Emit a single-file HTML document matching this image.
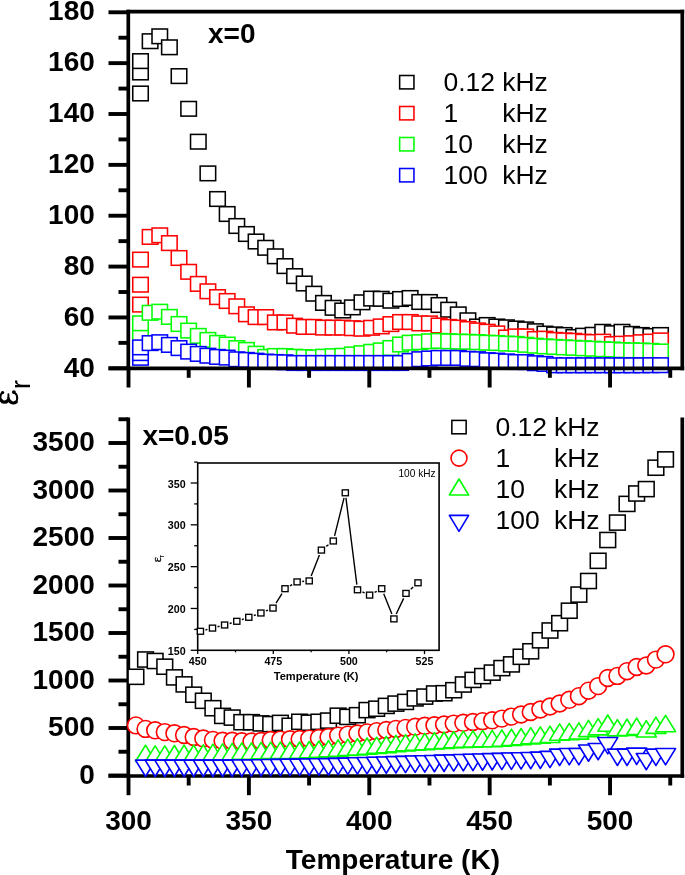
<!DOCTYPE html>
<html><head><meta charset="utf-8"><style>
html,body{margin:0;padding:0;background:#fff;}
body{width:685px;height:875px;overflow:hidden;}
svg{display:block;will-change:transform;}
</style></head><body>
<svg width="685" height="875" viewBox="0 0 685 875">
<rect width="685" height="875" fill="#fff"/>
<rect x="132.75" y="86.20" width="15.5" height="14.6" fill="#fff" stroke="#000" stroke-width="1.55"/>
<rect x="132.75" y="65.20" width="15.5" height="14.6" fill="#fff" stroke="#000" stroke-width="1.55"/>
<rect x="132.75" y="53.80" width="15.5" height="14.6" fill="#fff" stroke="#000" stroke-width="1.55"/>
<rect x="142.38" y="33.90" width="15.5" height="14.6" fill="#fff" stroke="#000" stroke-width="1.55"/>
<rect x="152.01" y="29.00" width="15.5" height="14.6" fill="#fff" stroke="#000" stroke-width="1.55"/>
<rect x="161.64" y="40.00" width="15.5" height="14.6" fill="#fff" stroke="#000" stroke-width="1.55"/>
<rect x="171.27" y="68.80" width="15.5" height="14.6" fill="#fff" stroke="#000" stroke-width="1.55"/>
<rect x="180.90" y="101.50" width="15.5" height="14.6" fill="#fff" stroke="#000" stroke-width="1.55"/>
<rect x="190.53" y="134.40" width="15.5" height="14.6" fill="#fff" stroke="#000" stroke-width="1.55"/>
<rect x="200.16" y="166.10" width="15.5" height="14.6" fill="#fff" stroke="#000" stroke-width="1.55"/>
<rect x="209.79" y="191.70" width="15.5" height="14.6" fill="#fff" stroke="#000" stroke-width="1.55"/>
<rect x="219.42" y="206.70" width="15.5" height="14.6" fill="#fff" stroke="#000" stroke-width="1.55"/>
<rect x="229.05" y="218.70" width="15.5" height="14.6" fill="#fff" stroke="#000" stroke-width="1.55"/>
<rect x="238.68" y="226.70" width="15.5" height="14.6" fill="#fff" stroke="#000" stroke-width="1.55"/>
<rect x="248.31" y="234.20" width="15.5" height="14.6" fill="#fff" stroke="#000" stroke-width="1.55"/>
<rect x="257.94" y="240.50" width="15.5" height="14.6" fill="#fff" stroke="#000" stroke-width="1.55"/>
<rect x="267.57" y="249.00" width="15.5" height="14.6" fill="#fff" stroke="#000" stroke-width="1.55"/>
<rect x="277.20" y="258.80" width="15.5" height="14.6" fill="#fff" stroke="#000" stroke-width="1.55"/>
<rect x="286.83" y="268.80" width="15.5" height="14.6" fill="#fff" stroke="#000" stroke-width="1.55"/>
<rect x="296.46" y="276.20" width="15.5" height="14.6" fill="#fff" stroke="#000" stroke-width="1.55"/>
<rect x="306.09" y="286.40" width="15.5" height="14.6" fill="#fff" stroke="#000" stroke-width="1.55"/>
<rect x="315.72" y="295.60" width="15.5" height="14.6" fill="#fff" stroke="#000" stroke-width="1.55"/>
<rect x="325.35" y="300.50" width="15.5" height="14.6" fill="#fff" stroke="#000" stroke-width="1.55"/>
<rect x="334.98" y="303.20" width="15.5" height="14.6" fill="#fff" stroke="#000" stroke-width="1.55"/>
<rect x="344.61" y="300.10" width="15.5" height="14.6" fill="#fff" stroke="#000" stroke-width="1.55"/>
<rect x="354.24" y="295.00" width="15.5" height="14.6" fill="#fff" stroke="#000" stroke-width="1.55"/>
<rect x="363.87" y="291.30" width="15.5" height="14.6" fill="#fff" stroke="#000" stroke-width="1.55"/>
<rect x="373.50" y="291.50" width="15.5" height="14.6" fill="#fff" stroke="#000" stroke-width="1.55"/>
<rect x="383.13" y="293.40" width="15.5" height="14.6" fill="#fff" stroke="#000" stroke-width="1.55"/>
<rect x="392.76" y="291.70" width="15.5" height="14.6" fill="#fff" stroke="#000" stroke-width="1.55"/>
<rect x="402.39" y="290.70" width="15.5" height="14.6" fill="#fff" stroke="#000" stroke-width="1.55"/>
<rect x="412.02" y="294.70" width="15.5" height="14.6" fill="#fff" stroke="#000" stroke-width="1.55"/>
<rect x="421.65" y="294.70" width="15.5" height="14.6" fill="#fff" stroke="#000" stroke-width="1.55"/>
<rect x="431.28" y="297.70" width="15.5" height="14.6" fill="#fff" stroke="#000" stroke-width="1.55"/>
<rect x="440.91" y="302.40" width="15.5" height="14.6" fill="#fff" stroke="#000" stroke-width="1.55"/>
<rect x="450.54" y="307.10" width="15.5" height="14.6" fill="#fff" stroke="#000" stroke-width="1.55"/>
<rect x="460.17" y="313.00" width="15.5" height="14.6" fill="#fff" stroke="#000" stroke-width="1.55"/>
<rect x="469.80" y="319.20" width="15.5" height="14.6" fill="#fff" stroke="#000" stroke-width="1.55"/>
<rect x="479.43" y="317.70" width="15.5" height="14.6" fill="#fff" stroke="#000" stroke-width="1.55"/>
<rect x="489.06" y="319.20" width="15.5" height="14.6" fill="#fff" stroke="#000" stroke-width="1.55"/>
<rect x="498.69" y="320.00" width="15.5" height="14.6" fill="#fff" stroke="#000" stroke-width="1.55"/>
<rect x="508.32" y="321.20" width="15.5" height="14.6" fill="#fff" stroke="#000" stroke-width="1.55"/>
<rect x="517.95" y="322.10" width="15.5" height="14.6" fill="#fff" stroke="#000" stroke-width="1.55"/>
<rect x="527.58" y="323.90" width="15.5" height="14.6" fill="#fff" stroke="#000" stroke-width="1.55"/>
<rect x="537.21" y="326.30" width="15.5" height="14.6" fill="#fff" stroke="#000" stroke-width="1.55"/>
<rect x="546.84" y="327.10" width="15.5" height="14.6" fill="#fff" stroke="#000" stroke-width="1.55"/>
<rect x="556.47" y="327.70" width="15.5" height="14.6" fill="#fff" stroke="#000" stroke-width="1.55"/>
<rect x="566.10" y="329.70" width="15.5" height="14.6" fill="#fff" stroke="#000" stroke-width="1.55"/>
<rect x="575.73" y="328.40" width="15.5" height="14.6" fill="#fff" stroke="#000" stroke-width="1.55"/>
<rect x="585.36" y="327.50" width="15.5" height="14.6" fill="#fff" stroke="#000" stroke-width="1.55"/>
<rect x="594.99" y="324.50" width="15.5" height="14.6" fill="#fff" stroke="#000" stroke-width="1.55"/>
<rect x="604.62" y="325.90" width="15.5" height="14.6" fill="#fff" stroke="#000" stroke-width="1.55"/>
<rect x="614.25" y="324.50" width="15.5" height="14.6" fill="#fff" stroke="#000" stroke-width="1.55"/>
<rect x="623.88" y="326.60" width="15.5" height="14.6" fill="#fff" stroke="#000" stroke-width="1.55"/>
<rect x="633.51" y="327.70" width="15.5" height="14.6" fill="#fff" stroke="#000" stroke-width="1.55"/>
<rect x="643.14" y="328.70" width="15.5" height="14.6" fill="#fff" stroke="#000" stroke-width="1.55"/>
<rect x="652.77" y="327.70" width="15.5" height="14.6" fill="#fff" stroke="#000" stroke-width="1.55"/>
<rect x="132.75" y="297.30" width="15.5" height="14.6" fill="#fff" stroke="#ff0000" stroke-width="1.55"/>
<rect x="132.75" y="277.40" width="15.5" height="14.6" fill="#fff" stroke="#ff0000" stroke-width="1.55"/>
<rect x="132.75" y="252.30" width="15.5" height="14.6" fill="#fff" stroke="#ff0000" stroke-width="1.55"/>
<rect x="142.38" y="229.60" width="15.5" height="14.6" fill="#fff" stroke="#ff0000" stroke-width="1.55"/>
<rect x="152.01" y="228.00" width="15.5" height="14.6" fill="#fff" stroke="#ff0000" stroke-width="1.55"/>
<rect x="161.64" y="235.80" width="15.5" height="14.6" fill="#fff" stroke="#ff0000" stroke-width="1.55"/>
<rect x="171.27" y="250.70" width="15.5" height="14.6" fill="#fff" stroke="#ff0000" stroke-width="1.55"/>
<rect x="180.90" y="264.50" width="15.5" height="14.6" fill="#fff" stroke="#ff0000" stroke-width="1.55"/>
<rect x="190.53" y="276.60" width="15.5" height="14.6" fill="#fff" stroke="#ff0000" stroke-width="1.55"/>
<rect x="200.16" y="284.00" width="15.5" height="14.6" fill="#fff" stroke="#ff0000" stroke-width="1.55"/>
<rect x="209.79" y="289.80" width="15.5" height="14.6" fill="#fff" stroke="#ff0000" stroke-width="1.55"/>
<rect x="219.42" y="293.70" width="15.5" height="14.6" fill="#fff" stroke="#ff0000" stroke-width="1.55"/>
<rect x="229.05" y="299.00" width="15.5" height="14.6" fill="#fff" stroke="#ff0000" stroke-width="1.55"/>
<rect x="238.68" y="307.00" width="15.5" height="14.6" fill="#fff" stroke="#ff0000" stroke-width="1.55"/>
<rect x="248.31" y="309.80" width="15.5" height="14.6" fill="#fff" stroke="#ff0000" stroke-width="1.55"/>
<rect x="257.94" y="309.80" width="15.5" height="14.6" fill="#fff" stroke="#ff0000" stroke-width="1.55"/>
<rect x="267.57" y="315.10" width="15.5" height="14.6" fill="#fff" stroke="#ff0000" stroke-width="1.55"/>
<rect x="277.20" y="315.10" width="15.5" height="14.6" fill="#fff" stroke="#ff0000" stroke-width="1.55"/>
<rect x="286.83" y="318.40" width="15.5" height="14.6" fill="#fff" stroke="#ff0000" stroke-width="1.55"/>
<rect x="296.46" y="319.60" width="15.5" height="14.6" fill="#fff" stroke="#ff0000" stroke-width="1.55"/>
<rect x="306.09" y="319.60" width="15.5" height="14.6" fill="#fff" stroke="#ff0000" stroke-width="1.55"/>
<rect x="315.72" y="320.30" width="15.5" height="14.6" fill="#fff" stroke="#ff0000" stroke-width="1.55"/>
<rect x="325.35" y="320.30" width="15.5" height="14.6" fill="#fff" stroke="#ff0000" stroke-width="1.55"/>
<rect x="334.98" y="320.30" width="15.5" height="14.6" fill="#fff" stroke="#ff0000" stroke-width="1.55"/>
<rect x="344.61" y="320.90" width="15.5" height="14.6" fill="#fff" stroke="#ff0000" stroke-width="1.55"/>
<rect x="354.24" y="321.40" width="15.5" height="14.6" fill="#fff" stroke="#ff0000" stroke-width="1.55"/>
<rect x="363.87" y="320.50" width="15.5" height="14.6" fill="#fff" stroke="#ff0000" stroke-width="1.55"/>
<rect x="373.50" y="319.10" width="15.5" height="14.6" fill="#fff" stroke="#ff0000" stroke-width="1.55"/>
<rect x="383.13" y="316.80" width="15.5" height="14.6" fill="#fff" stroke="#ff0000" stroke-width="1.55"/>
<rect x="392.76" y="314.70" width="15.5" height="14.6" fill="#fff" stroke="#ff0000" stroke-width="1.55"/>
<rect x="402.39" y="314.70" width="15.5" height="14.6" fill="#fff" stroke="#ff0000" stroke-width="1.55"/>
<rect x="412.02" y="316.10" width="15.5" height="14.6" fill="#fff" stroke="#ff0000" stroke-width="1.55"/>
<rect x="421.65" y="316.10" width="15.5" height="14.6" fill="#fff" stroke="#ff0000" stroke-width="1.55"/>
<rect x="431.28" y="318.20" width="15.5" height="14.6" fill="#fff" stroke="#ff0000" stroke-width="1.55"/>
<rect x="440.91" y="319.60" width="15.5" height="14.6" fill="#fff" stroke="#ff0000" stroke-width="1.55"/>
<rect x="450.54" y="320.30" width="15.5" height="14.6" fill="#fff" stroke="#ff0000" stroke-width="1.55"/>
<rect x="460.17" y="321.70" width="15.5" height="14.6" fill="#fff" stroke="#ff0000" stroke-width="1.55"/>
<rect x="469.80" y="323.10" width="15.5" height="14.6" fill="#fff" stroke="#ff0000" stroke-width="1.55"/>
<rect x="479.43" y="324.40" width="15.5" height="14.6" fill="#fff" stroke="#ff0000" stroke-width="1.55"/>
<rect x="489.06" y="326.10" width="15.5" height="14.6" fill="#fff" stroke="#ff0000" stroke-width="1.55"/>
<rect x="498.69" y="330.20" width="15.5" height="14.6" fill="#fff" stroke="#ff0000" stroke-width="1.55"/>
<rect x="508.32" y="329.10" width="15.5" height="14.6" fill="#fff" stroke="#ff0000" stroke-width="1.55"/>
<rect x="517.95" y="329.10" width="15.5" height="14.6" fill="#fff" stroke="#ff0000" stroke-width="1.55"/>
<rect x="527.58" y="331.70" width="15.5" height="14.6" fill="#fff" stroke="#ff0000" stroke-width="1.55"/>
<rect x="537.21" y="331.40" width="15.5" height="14.6" fill="#fff" stroke="#ff0000" stroke-width="1.55"/>
<rect x="546.84" y="332.60" width="15.5" height="14.6" fill="#fff" stroke="#ff0000" stroke-width="1.55"/>
<rect x="556.47" y="333.10" width="15.5" height="14.6" fill="#fff" stroke="#ff0000" stroke-width="1.55"/>
<rect x="566.10" y="333.50" width="15.5" height="14.6" fill="#fff" stroke="#ff0000" stroke-width="1.55"/>
<rect x="575.73" y="334.40" width="15.5" height="14.6" fill="#fff" stroke="#ff0000" stroke-width="1.55"/>
<rect x="585.36" y="334.70" width="15.5" height="14.6" fill="#fff" stroke="#ff0000" stroke-width="1.55"/>
<rect x="594.99" y="334.40" width="15.5" height="14.6" fill="#fff" stroke="#ff0000" stroke-width="1.55"/>
<rect x="604.62" y="336.80" width="15.5" height="14.6" fill="#fff" stroke="#ff0000" stroke-width="1.55"/>
<rect x="614.25" y="336.40" width="15.5" height="14.6" fill="#fff" stroke="#ff0000" stroke-width="1.55"/>
<rect x="623.88" y="335.90" width="15.5" height="14.6" fill="#fff" stroke="#ff0000" stroke-width="1.55"/>
<rect x="633.51" y="334.90" width="15.5" height="14.6" fill="#fff" stroke="#ff0000" stroke-width="1.55"/>
<rect x="643.14" y="334.30" width="15.5" height="14.6" fill="#fff" stroke="#ff0000" stroke-width="1.55"/>
<rect x="652.77" y="333.10" width="15.5" height="14.6" fill="#fff" stroke="#ff0000" stroke-width="1.55"/>
<rect x="132.75" y="326.70" width="15.5" height="14.6" fill="#fff" stroke="#00ff00" stroke-width="1.55"/>
<rect x="132.75" y="316.00" width="15.5" height="14.6" fill="#fff" stroke="#00ff00" stroke-width="1.55"/>
<rect x="142.38" y="305.50" width="15.5" height="14.6" fill="#fff" stroke="#00ff00" stroke-width="1.55"/>
<rect x="152.01" y="304.40" width="15.5" height="14.6" fill="#fff" stroke="#00ff00" stroke-width="1.55"/>
<rect x="161.64" y="309.60" width="15.5" height="14.6" fill="#fff" stroke="#00ff00" stroke-width="1.55"/>
<rect x="171.27" y="316.70" width="15.5" height="14.6" fill="#fff" stroke="#00ff00" stroke-width="1.55"/>
<rect x="180.90" y="323.30" width="15.5" height="14.6" fill="#fff" stroke="#00ff00" stroke-width="1.55"/>
<rect x="190.53" y="328.60" width="15.5" height="14.6" fill="#fff" stroke="#00ff00" stroke-width="1.55"/>
<rect x="200.16" y="332.60" width="15.5" height="14.6" fill="#fff" stroke="#00ff00" stroke-width="1.55"/>
<rect x="209.79" y="335.60" width="15.5" height="14.6" fill="#fff" stroke="#00ff00" stroke-width="1.55"/>
<rect x="219.42" y="337.30" width="15.5" height="14.6" fill="#fff" stroke="#00ff00" stroke-width="1.55"/>
<rect x="229.05" y="340.80" width="15.5" height="14.6" fill="#fff" stroke="#00ff00" stroke-width="1.55"/>
<rect x="238.68" y="342.60" width="15.5" height="14.6" fill="#fff" stroke="#00ff00" stroke-width="1.55"/>
<rect x="248.31" y="346.40" width="15.5" height="14.6" fill="#fff" stroke="#00ff00" stroke-width="1.55"/>
<rect x="257.94" y="349.60" width="15.5" height="14.6" fill="#fff" stroke="#00ff00" stroke-width="1.55"/>
<rect x="267.57" y="348.70" width="15.5" height="14.6" fill="#fff" stroke="#00ff00" stroke-width="1.55"/>
<rect x="277.20" y="348.70" width="15.5" height="14.6" fill="#fff" stroke="#00ff00" stroke-width="1.55"/>
<rect x="286.83" y="349.40" width="15.5" height="14.6" fill="#fff" stroke="#00ff00" stroke-width="1.55"/>
<rect x="296.46" y="349.80" width="15.5" height="14.6" fill="#fff" stroke="#00ff00" stroke-width="1.55"/>
<rect x="306.09" y="350.10" width="15.5" height="14.6" fill="#fff" stroke="#00ff00" stroke-width="1.55"/>
<rect x="315.72" y="349.40" width="15.5" height="14.6" fill="#fff" stroke="#00ff00" stroke-width="1.55"/>
<rect x="325.35" y="348.90" width="15.5" height="14.6" fill="#fff" stroke="#00ff00" stroke-width="1.55"/>
<rect x="334.98" y="348.50" width="15.5" height="14.6" fill="#fff" stroke="#00ff00" stroke-width="1.55"/>
<rect x="344.61" y="347.10" width="15.5" height="14.6" fill="#fff" stroke="#00ff00" stroke-width="1.55"/>
<rect x="354.24" y="345.90" width="15.5" height="14.6" fill="#fff" stroke="#00ff00" stroke-width="1.55"/>
<rect x="363.87" y="344.50" width="15.5" height="14.6" fill="#fff" stroke="#00ff00" stroke-width="1.55"/>
<rect x="373.50" y="343.10" width="15.5" height="14.6" fill="#fff" stroke="#00ff00" stroke-width="1.55"/>
<rect x="383.13" y="340.70" width="15.5" height="14.6" fill="#fff" stroke="#00ff00" stroke-width="1.55"/>
<rect x="392.76" y="337.20" width="15.5" height="14.6" fill="#fff" stroke="#00ff00" stroke-width="1.55"/>
<rect x="402.39" y="335.40" width="15.5" height="14.6" fill="#fff" stroke="#00ff00" stroke-width="1.55"/>
<rect x="412.02" y="334.90" width="15.5" height="14.6" fill="#fff" stroke="#00ff00" stroke-width="1.55"/>
<rect x="421.65" y="334.00" width="15.5" height="14.6" fill="#fff" stroke="#00ff00" stroke-width="1.55"/>
<rect x="431.28" y="333.60" width="15.5" height="14.6" fill="#fff" stroke="#00ff00" stroke-width="1.55"/>
<rect x="440.91" y="334.00" width="15.5" height="14.6" fill="#fff" stroke="#00ff00" stroke-width="1.55"/>
<rect x="450.54" y="334.30" width="15.5" height="14.6" fill="#fff" stroke="#00ff00" stroke-width="1.55"/>
<rect x="460.17" y="334.50" width="15.5" height="14.6" fill="#fff" stroke="#00ff00" stroke-width="1.55"/>
<rect x="469.80" y="334.90" width="15.5" height="14.6" fill="#fff" stroke="#00ff00" stroke-width="1.55"/>
<rect x="479.43" y="335.40" width="15.5" height="14.6" fill="#fff" stroke="#00ff00" stroke-width="1.55"/>
<rect x="489.06" y="335.70" width="15.5" height="14.6" fill="#fff" stroke="#00ff00" stroke-width="1.55"/>
<rect x="498.69" y="336.30" width="15.5" height="14.6" fill="#fff" stroke="#00ff00" stroke-width="1.55"/>
<rect x="508.32" y="336.60" width="15.5" height="14.6" fill="#fff" stroke="#00ff00" stroke-width="1.55"/>
<rect x="517.95" y="337.50" width="15.5" height="14.6" fill="#fff" stroke="#00ff00" stroke-width="1.55"/>
<rect x="527.58" y="338.40" width="15.5" height="14.6" fill="#fff" stroke="#00ff00" stroke-width="1.55"/>
<rect x="537.21" y="339.10" width="15.5" height="14.6" fill="#fff" stroke="#00ff00" stroke-width="1.55"/>
<rect x="546.84" y="339.60" width="15.5" height="14.6" fill="#fff" stroke="#00ff00" stroke-width="1.55"/>
<rect x="556.47" y="340.10" width="15.5" height="14.6" fill="#fff" stroke="#00ff00" stroke-width="1.55"/>
<rect x="566.10" y="340.50" width="15.5" height="14.6" fill="#fff" stroke="#00ff00" stroke-width="1.55"/>
<rect x="575.73" y="341.00" width="15.5" height="14.6" fill="#fff" stroke="#00ff00" stroke-width="1.55"/>
<rect x="585.36" y="341.40" width="15.5" height="14.6" fill="#fff" stroke="#00ff00" stroke-width="1.55"/>
<rect x="594.99" y="341.90" width="15.5" height="14.6" fill="#fff" stroke="#00ff00" stroke-width="1.55"/>
<rect x="604.62" y="342.20" width="15.5" height="14.6" fill="#fff" stroke="#00ff00" stroke-width="1.55"/>
<rect x="614.25" y="342.80" width="15.5" height="14.6" fill="#fff" stroke="#00ff00" stroke-width="1.55"/>
<rect x="623.88" y="343.10" width="15.5" height="14.6" fill="#fff" stroke="#00ff00" stroke-width="1.55"/>
<rect x="633.51" y="343.20" width="15.5" height="14.6" fill="#fff" stroke="#00ff00" stroke-width="1.55"/>
<rect x="643.14" y="343.60" width="15.5" height="14.6" fill="#fff" stroke="#00ff00" stroke-width="1.55"/>
<rect x="652.77" y="344.20" width="15.5" height="14.6" fill="#fff" stroke="#00ff00" stroke-width="1.55"/>
<rect x="132.75" y="350.50" width="15.5" height="14.6" fill="#fff" stroke="#0000ff" stroke-width="1.55"/>
<rect x="132.75" y="345.80" width="15.5" height="14.6" fill="#fff" stroke="#0000ff" stroke-width="1.55"/>
<rect x="132.75" y="340.10" width="15.5" height="14.6" fill="#fff" stroke="#0000ff" stroke-width="1.55"/>
<rect x="142.38" y="335.80" width="15.5" height="14.6" fill="#fff" stroke="#0000ff" stroke-width="1.55"/>
<rect x="152.01" y="334.90" width="15.5" height="14.6" fill="#fff" stroke="#0000ff" stroke-width="1.55"/>
<rect x="161.64" y="337.60" width="15.5" height="14.6" fill="#fff" stroke="#0000ff" stroke-width="1.55"/>
<rect x="171.27" y="340.80" width="15.5" height="14.6" fill="#fff" stroke="#0000ff" stroke-width="1.55"/>
<rect x="180.90" y="344.30" width="15.5" height="14.6" fill="#fff" stroke="#0000ff" stroke-width="1.55"/>
<rect x="190.53" y="346.60" width="15.5" height="14.6" fill="#fff" stroke="#0000ff" stroke-width="1.55"/>
<rect x="200.16" y="348.40" width="15.5" height="14.6" fill="#fff" stroke="#0000ff" stroke-width="1.55"/>
<rect x="209.79" y="349.60" width="15.5" height="14.6" fill="#fff" stroke="#0000ff" stroke-width="1.55"/>
<rect x="219.42" y="350.30" width="15.5" height="14.6" fill="#fff" stroke="#0000ff" stroke-width="1.55"/>
<rect x="229.05" y="352.00" width="15.5" height="14.6" fill="#fff" stroke="#0000ff" stroke-width="1.55"/>
<rect x="238.68" y="352.60" width="15.5" height="14.6" fill="#fff" stroke="#0000ff" stroke-width="1.55"/>
<rect x="248.31" y="353.40" width="15.5" height="14.6" fill="#fff" stroke="#0000ff" stroke-width="1.55"/>
<rect x="257.94" y="354.30" width="15.5" height="14.6" fill="#fff" stroke="#0000ff" stroke-width="1.55"/>
<rect x="267.57" y="354.70" width="15.5" height="14.6" fill="#fff" stroke="#0000ff" stroke-width="1.55"/>
<rect x="277.20" y="355.00" width="15.5" height="14.6" fill="#fff" stroke="#0000ff" stroke-width="1.55"/>
<rect x="286.83" y="355.70" width="15.5" height="14.6" fill="#fff" stroke="#0000ff" stroke-width="1.55"/>
<rect x="296.46" y="355.70" width="15.5" height="14.6" fill="#fff" stroke="#0000ff" stroke-width="1.55"/>
<rect x="306.09" y="355.70" width="15.5" height="14.6" fill="#fff" stroke="#0000ff" stroke-width="1.55"/>
<rect x="315.72" y="355.70" width="15.5" height="14.6" fill="#fff" stroke="#0000ff" stroke-width="1.55"/>
<rect x="325.35" y="355.70" width="15.5" height="14.6" fill="#fff" stroke="#0000ff" stroke-width="1.55"/>
<rect x="334.98" y="355.70" width="15.5" height="14.6" fill="#fff" stroke="#0000ff" stroke-width="1.55"/>
<rect x="344.61" y="355.70" width="15.5" height="14.6" fill="#fff" stroke="#0000ff" stroke-width="1.55"/>
<rect x="354.24" y="355.70" width="15.5" height="14.6" fill="#fff" stroke="#0000ff" stroke-width="1.55"/>
<rect x="363.87" y="355.70" width="15.5" height="14.6" fill="#fff" stroke="#0000ff" stroke-width="1.55"/>
<rect x="373.50" y="355.70" width="15.5" height="14.6" fill="#fff" stroke="#0000ff" stroke-width="1.55"/>
<rect x="383.13" y="355.70" width="15.5" height="14.6" fill="#fff" stroke="#0000ff" stroke-width="1.55"/>
<rect x="392.76" y="355.70" width="15.5" height="14.6" fill="#fff" stroke="#0000ff" stroke-width="1.55"/>
<rect x="402.39" y="353.60" width="15.5" height="14.6" fill="#fff" stroke="#0000ff" stroke-width="1.55"/>
<rect x="412.02" y="351.90" width="15.5" height="14.6" fill="#fff" stroke="#0000ff" stroke-width="1.55"/>
<rect x="421.65" y="351.20" width="15.5" height="14.6" fill="#fff" stroke="#0000ff" stroke-width="1.55"/>
<rect x="431.28" y="350.60" width="15.5" height="14.6" fill="#fff" stroke="#0000ff" stroke-width="1.55"/>
<rect x="440.91" y="350.60" width="15.5" height="14.6" fill="#fff" stroke="#0000ff" stroke-width="1.55"/>
<rect x="450.54" y="350.60" width="15.5" height="14.6" fill="#fff" stroke="#0000ff" stroke-width="1.55"/>
<rect x="460.17" y="351.50" width="15.5" height="14.6" fill="#fff" stroke="#0000ff" stroke-width="1.55"/>
<rect x="469.80" y="351.90" width="15.5" height="14.6" fill="#fff" stroke="#0000ff" stroke-width="1.55"/>
<rect x="479.43" y="352.90" width="15.5" height="14.6" fill="#fff" stroke="#0000ff" stroke-width="1.55"/>
<rect x="489.06" y="353.30" width="15.5" height="14.6" fill="#fff" stroke="#0000ff" stroke-width="1.55"/>
<rect x="498.69" y="354.10" width="15.5" height="14.6" fill="#fff" stroke="#0000ff" stroke-width="1.55"/>
<rect x="508.32" y="354.70" width="15.5" height="14.6" fill="#fff" stroke="#0000ff" stroke-width="1.55"/>
<rect x="517.95" y="354.80" width="15.5" height="14.6" fill="#fff" stroke="#0000ff" stroke-width="1.55"/>
<rect x="527.58" y="355.90" width="15.5" height="14.6" fill="#fff" stroke="#0000ff" stroke-width="1.55"/>
<rect x="537.21" y="356.60" width="15.5" height="14.6" fill="#fff" stroke="#0000ff" stroke-width="1.55"/>
<rect x="546.84" y="358.00" width="15.5" height="14.6" fill="#fff" stroke="#0000ff" stroke-width="1.55"/>
<rect x="556.47" y="358.00" width="15.5" height="14.6" fill="#fff" stroke="#0000ff" stroke-width="1.55"/>
<rect x="566.10" y="358.00" width="15.5" height="14.6" fill="#fff" stroke="#0000ff" stroke-width="1.55"/>
<rect x="575.73" y="358.00" width="15.5" height="14.6" fill="#fff" stroke="#0000ff" stroke-width="1.55"/>
<rect x="585.36" y="358.00" width="15.5" height="14.6" fill="#fff" stroke="#0000ff" stroke-width="1.55"/>
<rect x="594.99" y="358.00" width="15.5" height="14.6" fill="#fff" stroke="#0000ff" stroke-width="1.55"/>
<rect x="604.62" y="358.00" width="15.5" height="14.6" fill="#fff" stroke="#0000ff" stroke-width="1.55"/>
<rect x="614.25" y="358.00" width="15.5" height="14.6" fill="#fff" stroke="#0000ff" stroke-width="1.55"/>
<rect x="623.88" y="358.00" width="15.5" height="14.6" fill="#fff" stroke="#0000ff" stroke-width="1.55"/>
<rect x="633.51" y="358.00" width="15.5" height="14.6" fill="#fff" stroke="#0000ff" stroke-width="1.55"/>
<rect x="643.14" y="357.90" width="15.5" height="14.6" fill="#fff" stroke="#0000ff" stroke-width="1.55"/>
<rect x="652.77" y="357.90" width="15.5" height="14.6" fill="#fff" stroke="#0000ff" stroke-width="1.55"/>
<line x1="126.45" y1="11.70" x2="684.15" y2="11.70" stroke="#000" stroke-width="3.7"/>
<line x1="682.30" y1="9.85" x2="682.30" y2="370.15" stroke="#000" stroke-width="3.7"/>
<line x1="108.50" y1="368.30" x2="684.15" y2="368.30" stroke="#000" stroke-width="3.7"/>
<line x1="128.30" y1="9.85" x2="128.30" y2="368.30" stroke="#000" stroke-width="3.7"/>
<line x1="108.50" y1="368.30" x2="128.30" y2="368.30" stroke="#000" stroke-width="3.9"/>
<text x="94.80" y="376.50" font-family="&quot;Liberation Sans&quot;, sans-serif" font-weight="bold" font-size="28" text-anchor="end" >40</text>
<line x1="118.50" y1="342.87" x2="128.30" y2="342.87" stroke="#000" stroke-width="3.9"/>
<line x1="108.50" y1="317.44" x2="128.30" y2="317.44" stroke="#000" stroke-width="3.9"/>
<text x="94.80" y="325.64" font-family="&quot;Liberation Sans&quot;, sans-serif" font-weight="bold" font-size="28" text-anchor="end" >60</text>
<line x1="118.50" y1="292.01" x2="128.30" y2="292.01" stroke="#000" stroke-width="3.9"/>
<line x1="108.50" y1="266.58" x2="128.30" y2="266.58" stroke="#000" stroke-width="3.9"/>
<text x="94.80" y="274.78" font-family="&quot;Liberation Sans&quot;, sans-serif" font-weight="bold" font-size="28" text-anchor="end" >80</text>
<line x1="118.50" y1="241.15" x2="128.30" y2="241.15" stroke="#000" stroke-width="3.9"/>
<line x1="108.50" y1="215.72" x2="128.30" y2="215.72" stroke="#000" stroke-width="3.9"/>
<text x="94.80" y="223.92" font-family="&quot;Liberation Sans&quot;, sans-serif" font-weight="bold" font-size="28" text-anchor="end" >100</text>
<line x1="118.50" y1="190.29" x2="128.30" y2="190.29" stroke="#000" stroke-width="3.9"/>
<line x1="108.50" y1="164.86" x2="128.30" y2="164.86" stroke="#000" stroke-width="3.9"/>
<text x="94.80" y="173.06" font-family="&quot;Liberation Sans&quot;, sans-serif" font-weight="bold" font-size="28" text-anchor="end" >120</text>
<line x1="118.50" y1="139.43" x2="128.30" y2="139.43" stroke="#000" stroke-width="3.9"/>
<line x1="108.50" y1="114.00" x2="128.30" y2="114.00" stroke="#000" stroke-width="3.9"/>
<text x="94.80" y="122.20" font-family="&quot;Liberation Sans&quot;, sans-serif" font-weight="bold" font-size="28" text-anchor="end" >140</text>
<line x1="118.50" y1="88.57" x2="128.30" y2="88.57" stroke="#000" stroke-width="3.9"/>
<line x1="108.50" y1="63.14" x2="128.30" y2="63.14" stroke="#000" stroke-width="3.9"/>
<text x="94.80" y="71.34" font-family="&quot;Liberation Sans&quot;, sans-serif" font-weight="bold" font-size="28" text-anchor="end" >160</text>
<line x1="118.50" y1="37.71" x2="128.30" y2="37.71" stroke="#000" stroke-width="3.9"/>
<line x1="108.50" y1="12.28" x2="128.30" y2="12.28" stroke="#000" stroke-width="3.9"/>
<text x="94.80" y="20.48" font-family="&quot;Liberation Sans&quot;, sans-serif" font-weight="bold" font-size="28" text-anchor="end" >180</text>
<line x1="128.50" y1="368.30" x2="128.50" y2="387.50" stroke="#000" stroke-width="3.9"/>
<line x1="188.69" y1="368.30" x2="188.69" y2="377.80" stroke="#000" stroke-width="3.9"/>
<line x1="248.89" y1="368.30" x2="248.89" y2="387.50" stroke="#000" stroke-width="3.9"/>
<line x1="309.09" y1="368.30" x2="309.09" y2="377.80" stroke="#000" stroke-width="3.9"/>
<line x1="369.28" y1="368.30" x2="369.28" y2="387.50" stroke="#000" stroke-width="3.9"/>
<line x1="429.47" y1="368.30" x2="429.47" y2="377.80" stroke="#000" stroke-width="3.9"/>
<line x1="489.67" y1="368.30" x2="489.67" y2="387.50" stroke="#000" stroke-width="3.9"/>
<line x1="549.87" y1="368.30" x2="549.87" y2="377.80" stroke="#000" stroke-width="3.9"/>
<line x1="610.06" y1="368.30" x2="610.06" y2="387.50" stroke="#000" stroke-width="3.9"/>
<line x1="670.25" y1="368.30" x2="670.25" y2="377.80" stroke="#000" stroke-width="3.9"/>
<line x1="128.30" y1="417.60" x2="128.30" y2="776.00" stroke="#000" stroke-width="3.7"/>
<line x1="682.30" y1="417.60" x2="682.30" y2="777.85" stroke="#000" stroke-width="3.7"/>
<line x1="108.50" y1="776.00" x2="684.15" y2="776.00" stroke="#000" stroke-width="3.7"/>
<line x1="108.50" y1="775.50" x2="128.30" y2="775.50" stroke="#000" stroke-width="3.9"/>
<text x="94.80" y="783.70" font-family="&quot;Liberation Sans&quot;, sans-serif" font-weight="bold" font-size="28" text-anchor="end" >0</text>
<line x1="118.50" y1="751.75" x2="128.30" y2="751.75" stroke="#000" stroke-width="3.9"/>
<line x1="108.50" y1="728.00" x2="128.30" y2="728.00" stroke="#000" stroke-width="3.9"/>
<text x="94.80" y="736.20" font-family="&quot;Liberation Sans&quot;, sans-serif" font-weight="bold" font-size="28" text-anchor="end" >500</text>
<line x1="118.50" y1="704.25" x2="128.30" y2="704.25" stroke="#000" stroke-width="3.9"/>
<line x1="108.50" y1="680.50" x2="128.30" y2="680.50" stroke="#000" stroke-width="3.9"/>
<text x="94.80" y="688.70" font-family="&quot;Liberation Sans&quot;, sans-serif" font-weight="bold" font-size="28" text-anchor="end" >1000</text>
<line x1="118.50" y1="656.75" x2="128.30" y2="656.75" stroke="#000" stroke-width="3.9"/>
<line x1="108.50" y1="633.00" x2="128.30" y2="633.00" stroke="#000" stroke-width="3.9"/>
<text x="94.80" y="641.20" font-family="&quot;Liberation Sans&quot;, sans-serif" font-weight="bold" font-size="28" text-anchor="end" >1500</text>
<line x1="118.50" y1="609.25" x2="128.30" y2="609.25" stroke="#000" stroke-width="3.9"/>
<line x1="108.50" y1="585.50" x2="128.30" y2="585.50" stroke="#000" stroke-width="3.9"/>
<text x="94.80" y="593.70" font-family="&quot;Liberation Sans&quot;, sans-serif" font-weight="bold" font-size="28" text-anchor="end" >2000</text>
<line x1="118.50" y1="561.75" x2="128.30" y2="561.75" stroke="#000" stroke-width="3.9"/>
<line x1="108.50" y1="538.00" x2="128.30" y2="538.00" stroke="#000" stroke-width="3.9"/>
<text x="94.80" y="546.20" font-family="&quot;Liberation Sans&quot;, sans-serif" font-weight="bold" font-size="28" text-anchor="end" >2500</text>
<line x1="118.50" y1="514.25" x2="128.30" y2="514.25" stroke="#000" stroke-width="3.9"/>
<line x1="108.50" y1="490.50" x2="128.30" y2="490.50" stroke="#000" stroke-width="3.9"/>
<text x="94.80" y="498.70" font-family="&quot;Liberation Sans&quot;, sans-serif" font-weight="bold" font-size="28" text-anchor="end" >3000</text>
<line x1="118.50" y1="466.75" x2="128.30" y2="466.75" stroke="#000" stroke-width="3.9"/>
<line x1="108.50" y1="443.00" x2="128.30" y2="443.00" stroke="#000" stroke-width="3.9"/>
<text x="94.80" y="451.20" font-family="&quot;Liberation Sans&quot;, sans-serif" font-weight="bold" font-size="28" text-anchor="end" >3500</text>
<line x1="118.50" y1="419.25" x2="128.30" y2="419.25" stroke="#000" stroke-width="3.9"/>
<line x1="128.50" y1="776.00" x2="128.50" y2="795.20" stroke="#000" stroke-width="3.9"/>
<text x="128.50" y="830.00" font-family="&quot;Liberation Sans&quot;, sans-serif" font-weight="bold" font-size="28" text-anchor="middle" >300</text>
<line x1="188.69" y1="776.00" x2="188.69" y2="785.50" stroke="#000" stroke-width="3.9"/>
<line x1="248.89" y1="776.00" x2="248.89" y2="795.20" stroke="#000" stroke-width="3.9"/>
<text x="248.89" y="830.00" font-family="&quot;Liberation Sans&quot;, sans-serif" font-weight="bold" font-size="28" text-anchor="middle" >350</text>
<line x1="309.09" y1="776.00" x2="309.09" y2="785.50" stroke="#000" stroke-width="3.9"/>
<line x1="369.28" y1="776.00" x2="369.28" y2="795.20" stroke="#000" stroke-width="3.9"/>
<text x="369.28" y="830.00" font-family="&quot;Liberation Sans&quot;, sans-serif" font-weight="bold" font-size="28" text-anchor="middle" >400</text>
<line x1="429.47" y1="776.00" x2="429.47" y2="785.50" stroke="#000" stroke-width="3.9"/>
<line x1="489.67" y1="776.00" x2="489.67" y2="795.20" stroke="#000" stroke-width="3.9"/>
<text x="489.67" y="830.00" font-family="&quot;Liberation Sans&quot;, sans-serif" font-weight="bold" font-size="28" text-anchor="middle" >450</text>
<line x1="549.87" y1="776.00" x2="549.87" y2="785.50" stroke="#000" stroke-width="3.9"/>
<line x1="610.06" y1="776.00" x2="610.06" y2="795.20" stroke="#000" stroke-width="3.9"/>
<text x="610.06" y="830.00" font-family="&quot;Liberation Sans&quot;, sans-serif" font-weight="bold" font-size="28" text-anchor="middle" >500</text>
<line x1="670.25" y1="776.00" x2="670.25" y2="785.50" stroke="#000" stroke-width="3.9"/>
<rect x="128.05" y="669.25" width="15.7" height="15.1" fill="#fff" stroke="#000" stroke-width="1.55"/>
<rect x="137.68" y="651.95" width="15.7" height="15.1" fill="#fff" stroke="#000" stroke-width="1.55"/>
<rect x="147.31" y="653.45" width="15.7" height="15.1" fill="#fff" stroke="#000" stroke-width="1.55"/>
<rect x="156.94" y="659.15" width="15.7" height="15.1" fill="#fff" stroke="#000" stroke-width="1.55"/>
<rect x="166.57" y="669.85" width="15.7" height="15.1" fill="#fff" stroke="#000" stroke-width="1.55"/>
<rect x="176.20" y="676.85" width="15.7" height="15.1" fill="#fff" stroke="#000" stroke-width="1.55"/>
<rect x="185.83" y="687.15" width="15.7" height="15.1" fill="#fff" stroke="#000" stroke-width="1.55"/>
<rect x="195.46" y="693.25" width="15.7" height="15.1" fill="#fff" stroke="#000" stroke-width="1.55"/>
<rect x="205.09" y="700.65" width="15.7" height="15.1" fill="#fff" stroke="#000" stroke-width="1.55"/>
<rect x="214.72" y="708.35" width="15.7" height="15.1" fill="#fff" stroke="#000" stroke-width="1.55"/>
<rect x="224.35" y="710.05" width="15.7" height="15.1" fill="#fff" stroke="#000" stroke-width="1.55"/>
<rect x="233.98" y="714.65" width="15.7" height="15.1" fill="#fff" stroke="#000" stroke-width="1.55"/>
<rect x="243.61" y="714.65" width="15.7" height="15.1" fill="#fff" stroke="#000" stroke-width="1.55"/>
<rect x="253.24" y="715.85" width="15.7" height="15.1" fill="#fff" stroke="#000" stroke-width="1.55"/>
<rect x="262.87" y="716.55" width="15.7" height="15.1" fill="#fff" stroke="#000" stroke-width="1.55"/>
<rect x="272.50" y="715.35" width="15.7" height="15.1" fill="#fff" stroke="#000" stroke-width="1.55"/>
<rect x="282.13" y="718.25" width="15.7" height="15.1" fill="#fff" stroke="#000" stroke-width="1.55"/>
<rect x="291.76" y="714.25" width="15.7" height="15.1" fill="#fff" stroke="#000" stroke-width="1.55"/>
<rect x="301.39" y="715.15" width="15.7" height="15.1" fill="#fff" stroke="#000" stroke-width="1.55"/>
<rect x="311.02" y="714.25" width="15.7" height="15.1" fill="#fff" stroke="#000" stroke-width="1.55"/>
<rect x="320.65" y="713.05" width="15.7" height="15.1" fill="#fff" stroke="#000" stroke-width="1.55"/>
<rect x="330.28" y="708.15" width="15.7" height="15.1" fill="#fff" stroke="#000" stroke-width="1.55"/>
<rect x="339.91" y="709.35" width="15.7" height="15.1" fill="#fff" stroke="#000" stroke-width="1.55"/>
<rect x="349.54" y="707.65" width="15.7" height="15.1" fill="#fff" stroke="#000" stroke-width="1.55"/>
<rect x="359.17" y="702.55" width="15.7" height="15.1" fill="#fff" stroke="#000" stroke-width="1.55"/>
<rect x="368.80" y="701.15" width="15.7" height="15.1" fill="#fff" stroke="#000" stroke-width="1.55"/>
<rect x="378.43" y="698.35" width="15.7" height="15.1" fill="#fff" stroke="#000" stroke-width="1.55"/>
<rect x="388.06" y="696.05" width="15.7" height="15.1" fill="#fff" stroke="#000" stroke-width="1.55"/>
<rect x="397.69" y="694.35" width="15.7" height="15.1" fill="#fff" stroke="#000" stroke-width="1.55"/>
<rect x="407.32" y="690.85" width="15.7" height="15.1" fill="#fff" stroke="#000" stroke-width="1.55"/>
<rect x="416.95" y="689.05" width="15.7" height="15.1" fill="#fff" stroke="#000" stroke-width="1.55"/>
<rect x="426.58" y="685.95" width="15.7" height="15.1" fill="#fff" stroke="#000" stroke-width="1.55"/>
<rect x="436.21" y="685.65" width="15.7" height="15.1" fill="#fff" stroke="#000" stroke-width="1.55"/>
<rect x="445.84" y="682.65" width="15.7" height="15.1" fill="#fff" stroke="#000" stroke-width="1.55"/>
<rect x="455.47" y="676.95" width="15.7" height="15.1" fill="#fff" stroke="#000" stroke-width="1.55"/>
<rect x="465.10" y="672.35" width="15.7" height="15.1" fill="#fff" stroke="#000" stroke-width="1.55"/>
<rect x="474.73" y="668.55" width="15.7" height="15.1" fill="#fff" stroke="#000" stroke-width="1.55"/>
<rect x="484.36" y="665.05" width="15.7" height="15.1" fill="#fff" stroke="#000" stroke-width="1.55"/>
<rect x="493.99" y="660.55" width="15.7" height="15.1" fill="#fff" stroke="#000" stroke-width="1.55"/>
<rect x="503.62" y="656.85" width="15.7" height="15.1" fill="#fff" stroke="#000" stroke-width="1.55"/>
<rect x="513.25" y="649.25" width="15.7" height="15.1" fill="#fff" stroke="#000" stroke-width="1.55"/>
<rect x="522.88" y="643.75" width="15.7" height="15.1" fill="#fff" stroke="#000" stroke-width="1.55"/>
<rect x="532.51" y="632.75" width="15.7" height="15.1" fill="#fff" stroke="#000" stroke-width="1.55"/>
<rect x="542.14" y="622.95" width="15.7" height="15.1" fill="#fff" stroke="#000" stroke-width="1.55"/>
<rect x="551.77" y="615.65" width="15.7" height="15.1" fill="#fff" stroke="#000" stroke-width="1.55"/>
<rect x="561.40" y="603.15" width="15.7" height="15.1" fill="#fff" stroke="#000" stroke-width="1.55"/>
<rect x="571.03" y="587.05" width="15.7" height="15.1" fill="#fff" stroke="#000" stroke-width="1.55"/>
<rect x="580.66" y="573.45" width="15.7" height="15.1" fill="#fff" stroke="#000" stroke-width="1.55"/>
<rect x="590.29" y="553.25" width="15.7" height="15.1" fill="#fff" stroke="#000" stroke-width="1.55"/>
<rect x="599.92" y="532.45" width="15.7" height="15.1" fill="#fff" stroke="#000" stroke-width="1.55"/>
<rect x="609.55" y="515.05" width="15.7" height="15.1" fill="#fff" stroke="#000" stroke-width="1.55"/>
<rect x="619.18" y="496.35" width="15.7" height="15.1" fill="#fff" stroke="#000" stroke-width="1.55"/>
<rect x="628.81" y="485.95" width="15.7" height="15.1" fill="#fff" stroke="#000" stroke-width="1.55"/>
<rect x="638.44" y="481.55" width="15.7" height="15.1" fill="#fff" stroke="#000" stroke-width="1.55"/>
<rect x="648.07" y="460.15" width="15.7" height="15.1" fill="#fff" stroke="#000" stroke-width="1.55"/>
<rect x="657.70" y="451.85" width="15.7" height="15.1" fill="#fff" stroke="#000" stroke-width="1.55"/>
<circle cx="135.90" cy="725.40" r="8.4" fill="#fff" stroke="#ff0000" stroke-width="1.6"/>
<circle cx="145.53" cy="728.90" r="8.4" fill="#fff" stroke="#ff0000" stroke-width="1.6"/>
<circle cx="155.16" cy="730.30" r="8.4" fill="#fff" stroke="#ff0000" stroke-width="1.6"/>
<circle cx="164.79" cy="732.10" r="8.4" fill="#fff" stroke="#ff0000" stroke-width="1.6"/>
<circle cx="174.42" cy="733.30" r="8.4" fill="#fff" stroke="#ff0000" stroke-width="1.6"/>
<circle cx="184.05" cy="735.00" r="8.4" fill="#fff" stroke="#ff0000" stroke-width="1.6"/>
<circle cx="193.68" cy="737.00" r="8.4" fill="#fff" stroke="#ff0000" stroke-width="1.6"/>
<circle cx="203.31" cy="738.50" r="8.4" fill="#fff" stroke="#ff0000" stroke-width="1.6"/>
<circle cx="212.94" cy="739.90" r="8.4" fill="#fff" stroke="#ff0000" stroke-width="1.6"/>
<circle cx="222.57" cy="740.80" r="8.4" fill="#fff" stroke="#ff0000" stroke-width="1.6"/>
<circle cx="232.20" cy="740.80" r="8.4" fill="#fff" stroke="#ff0000" stroke-width="1.6"/>
<circle cx="241.83" cy="741.30" r="8.4" fill="#fff" stroke="#ff0000" stroke-width="1.6"/>
<circle cx="251.46" cy="741.50" r="8.4" fill="#fff" stroke="#ff0000" stroke-width="1.6"/>
<circle cx="261.09" cy="741.00" r="8.4" fill="#fff" stroke="#ff0000" stroke-width="1.6"/>
<circle cx="270.72" cy="740.00" r="8.4" fill="#fff" stroke="#ff0000" stroke-width="1.6"/>
<circle cx="280.35" cy="739.60" r="8.4" fill="#fff" stroke="#ff0000" stroke-width="1.6"/>
<circle cx="289.98" cy="739.30" r="8.4" fill="#fff" stroke="#ff0000" stroke-width="1.6"/>
<circle cx="299.61" cy="739.00" r="8.4" fill="#fff" stroke="#ff0000" stroke-width="1.6"/>
<circle cx="309.24" cy="738.60" r="8.4" fill="#fff" stroke="#ff0000" stroke-width="1.6"/>
<circle cx="318.87" cy="738.00" r="8.4" fill="#fff" stroke="#ff0000" stroke-width="1.6"/>
<circle cx="328.50" cy="737.00" r="8.4" fill="#fff" stroke="#ff0000" stroke-width="1.6"/>
<circle cx="338.13" cy="735.60" r="8.4" fill="#fff" stroke="#ff0000" stroke-width="1.6"/>
<circle cx="347.76" cy="734.60" r="8.4" fill="#fff" stroke="#ff0000" stroke-width="1.6"/>
<circle cx="357.39" cy="733.50" r="8.4" fill="#fff" stroke="#ff0000" stroke-width="1.6"/>
<circle cx="367.02" cy="732.40" r="8.4" fill="#fff" stroke="#ff0000" stroke-width="1.6"/>
<circle cx="376.65" cy="731.20" r="8.4" fill="#fff" stroke="#ff0000" stroke-width="1.6"/>
<circle cx="386.28" cy="730.00" r="8.4" fill="#fff" stroke="#ff0000" stroke-width="1.6"/>
<circle cx="395.91" cy="728.90" r="8.4" fill="#fff" stroke="#ff0000" stroke-width="1.6"/>
<circle cx="405.54" cy="727.90" r="8.4" fill="#fff" stroke="#ff0000" stroke-width="1.6"/>
<circle cx="415.17" cy="726.80" r="8.4" fill="#fff" stroke="#ff0000" stroke-width="1.6"/>
<circle cx="424.80" cy="725.80" r="8.4" fill="#fff" stroke="#ff0000" stroke-width="1.6"/>
<circle cx="434.43" cy="725.30" r="8.4" fill="#fff" stroke="#ff0000" stroke-width="1.6"/>
<circle cx="444.06" cy="724.50" r="8.4" fill="#fff" stroke="#ff0000" stroke-width="1.6"/>
<circle cx="453.69" cy="723.60" r="8.4" fill="#fff" stroke="#ff0000" stroke-width="1.6"/>
<circle cx="463.32" cy="722.80" r="8.4" fill="#fff" stroke="#ff0000" stroke-width="1.6"/>
<circle cx="472.95" cy="722.00" r="8.4" fill="#fff" stroke="#ff0000" stroke-width="1.6"/>
<circle cx="482.58" cy="721.20" r="8.4" fill="#fff" stroke="#ff0000" stroke-width="1.6"/>
<circle cx="492.21" cy="720.30" r="8.4" fill="#fff" stroke="#ff0000" stroke-width="1.6"/>
<circle cx="501.84" cy="718.60" r="8.4" fill="#fff" stroke="#ff0000" stroke-width="1.6"/>
<circle cx="511.47" cy="716.60" r="8.4" fill="#fff" stroke="#ff0000" stroke-width="1.6"/>
<circle cx="521.10" cy="714.50" r="8.4" fill="#fff" stroke="#ff0000" stroke-width="1.6"/>
<circle cx="530.73" cy="712.00" r="8.4" fill="#fff" stroke="#ff0000" stroke-width="1.6"/>
<circle cx="540.36" cy="709.50" r="8.4" fill="#fff" stroke="#ff0000" stroke-width="1.6"/>
<circle cx="549.99" cy="706.50" r="8.4" fill="#fff" stroke="#ff0000" stroke-width="1.6"/>
<circle cx="559.62" cy="703.50" r="8.4" fill="#fff" stroke="#ff0000" stroke-width="1.6"/>
<circle cx="569.25" cy="699.80" r="8.4" fill="#fff" stroke="#ff0000" stroke-width="1.6"/>
<circle cx="578.88" cy="696.20" r="8.4" fill="#fff" stroke="#ff0000" stroke-width="1.6"/>
<circle cx="588.51" cy="690.70" r="8.4" fill="#fff" stroke="#ff0000" stroke-width="1.6"/>
<circle cx="598.14" cy="686.10" r="8.4" fill="#fff" stroke="#ff0000" stroke-width="1.6"/>
<circle cx="607.77" cy="678.00" r="8.4" fill="#fff" stroke="#ff0000" stroke-width="1.6"/>
<circle cx="617.40" cy="675.90" r="8.4" fill="#fff" stroke="#ff0000" stroke-width="1.6"/>
<circle cx="627.03" cy="671.20" r="8.4" fill="#fff" stroke="#ff0000" stroke-width="1.6"/>
<circle cx="636.66" cy="667.00" r="8.4" fill="#fff" stroke="#ff0000" stroke-width="1.6"/>
<circle cx="646.29" cy="665.50" r="8.4" fill="#fff" stroke="#ff0000" stroke-width="1.6"/>
<circle cx="655.92" cy="659.60" r="8.4" fill="#fff" stroke="#ff0000" stroke-width="1.6"/>
<circle cx="665.55" cy="654.30" r="8.4" fill="#fff" stroke="#ff0000" stroke-width="1.6"/>
<path d="M145.53,745.20L155.53,761.50L135.53,761.50Z" fill="#fff" stroke="#00ff00" stroke-width="1.6" stroke-linejoin="round"/>
<path d="M155.16,745.90L165.16,762.20L145.16,762.20Z" fill="#fff" stroke="#00ff00" stroke-width="1.6" stroke-linejoin="round"/>
<path d="M164.79,745.90L174.79,762.20L154.79,762.20Z" fill="#fff" stroke="#00ff00" stroke-width="1.6" stroke-linejoin="round"/>
<path d="M174.42,745.50L184.42,761.80L164.42,761.80Z" fill="#fff" stroke="#00ff00" stroke-width="1.6" stroke-linejoin="round"/>
<path d="M184.05,745.20L194.05,761.50L174.05,761.50Z" fill="#fff" stroke="#00ff00" stroke-width="1.6" stroke-linejoin="round"/>
<path d="M193.68,745.20L203.68,761.50L183.68,761.50Z" fill="#fff" stroke="#00ff00" stroke-width="1.6" stroke-linejoin="round"/>
<path d="M203.31,744.80L213.31,761.10L193.31,761.10Z" fill="#fff" stroke="#00ff00" stroke-width="1.6" stroke-linejoin="round"/>
<path d="M212.94,744.10L222.94,760.40L202.94,760.40Z" fill="#fff" stroke="#00ff00" stroke-width="1.6" stroke-linejoin="round"/>
<path d="M222.57,743.80L232.57,760.10L212.57,760.10Z" fill="#fff" stroke="#00ff00" stroke-width="1.6" stroke-linejoin="round"/>
<path d="M232.20,743.40L242.20,759.70L222.20,759.70Z" fill="#fff" stroke="#00ff00" stroke-width="1.6" stroke-linejoin="round"/>
<path d="M241.83,742.90L251.83,759.20L231.83,759.20Z" fill="#fff" stroke="#00ff00" stroke-width="1.6" stroke-linejoin="round"/>
<path d="M251.46,742.90L261.46,759.20L241.46,759.20Z" fill="#fff" stroke="#00ff00" stroke-width="1.6" stroke-linejoin="round"/>
<path d="M261.09,742.40L271.09,758.70L251.09,758.70Z" fill="#fff" stroke="#00ff00" stroke-width="1.6" stroke-linejoin="round"/>
<path d="M270.72,742.20L280.72,758.50L260.72,758.50Z" fill="#fff" stroke="#00ff00" stroke-width="1.6" stroke-linejoin="round"/>
<path d="M280.35,742.20L290.35,758.50L270.35,758.50Z" fill="#fff" stroke="#00ff00" stroke-width="1.6" stroke-linejoin="round"/>
<path d="M289.98,742.20L299.98,758.50L279.98,758.50Z" fill="#fff" stroke="#00ff00" stroke-width="1.6" stroke-linejoin="round"/>
<path d="M299.61,742.00L309.61,758.30L289.61,758.30Z" fill="#fff" stroke="#00ff00" stroke-width="1.6" stroke-linejoin="round"/>
<path d="M309.24,741.50L319.24,757.80L299.24,757.80Z" fill="#fff" stroke="#00ff00" stroke-width="1.6" stroke-linejoin="round"/>
<path d="M318.87,741.00L328.87,757.30L308.87,757.30Z" fill="#fff" stroke="#00ff00" stroke-width="1.6" stroke-linejoin="round"/>
<path d="M328.50,740.60L338.50,756.90L318.50,756.90Z" fill="#fff" stroke="#00ff00" stroke-width="1.6" stroke-linejoin="round"/>
<path d="M338.13,739.90L348.13,756.20L328.13,756.20Z" fill="#fff" stroke="#00ff00" stroke-width="1.6" stroke-linejoin="round"/>
<path d="M347.76,739.20L357.76,755.50L337.76,755.50Z" fill="#fff" stroke="#00ff00" stroke-width="1.6" stroke-linejoin="round"/>
<path d="M357.39,738.70L367.39,755.00L347.39,755.00Z" fill="#fff" stroke="#00ff00" stroke-width="1.6" stroke-linejoin="round"/>
<path d="M367.02,738.00L377.02,754.30L357.02,754.30Z" fill="#fff" stroke="#00ff00" stroke-width="1.6" stroke-linejoin="round"/>
<path d="M376.65,737.10L386.65,753.40L366.65,753.40Z" fill="#fff" stroke="#00ff00" stroke-width="1.6" stroke-linejoin="round"/>
<path d="M386.28,736.40L396.28,752.70L376.28,752.70Z" fill="#fff" stroke="#00ff00" stroke-width="1.6" stroke-linejoin="round"/>
<path d="M395.91,735.40L405.91,751.70L385.91,751.70Z" fill="#fff" stroke="#00ff00" stroke-width="1.6" stroke-linejoin="round"/>
<path d="M405.54,734.60L415.54,750.90L395.54,750.90Z" fill="#fff" stroke="#00ff00" stroke-width="1.6" stroke-linejoin="round"/>
<path d="M415.17,733.90L425.17,750.20L405.17,750.20Z" fill="#fff" stroke="#00ff00" stroke-width="1.6" stroke-linejoin="round"/>
<path d="M424.80,733.40L434.80,749.70L414.80,749.70Z" fill="#fff" stroke="#00ff00" stroke-width="1.6" stroke-linejoin="round"/>
<path d="M434.43,732.70L444.43,749.00L424.43,749.00Z" fill="#fff" stroke="#00ff00" stroke-width="1.6" stroke-linejoin="round"/>
<path d="M444.06,732.20L454.06,748.50L434.06,748.50Z" fill="#fff" stroke="#00ff00" stroke-width="1.6" stroke-linejoin="round"/>
<path d="M453.69,731.50L463.69,747.80L443.69,747.80Z" fill="#fff" stroke="#00ff00" stroke-width="1.6" stroke-linejoin="round"/>
<path d="M463.32,731.10L473.32,747.40L453.32,747.40Z" fill="#fff" stroke="#00ff00" stroke-width="1.6" stroke-linejoin="round"/>
<path d="M472.95,730.80L482.95,747.10L462.95,747.10Z" fill="#fff" stroke="#00ff00" stroke-width="1.6" stroke-linejoin="round"/>
<path d="M482.58,730.40L492.58,746.70L472.58,746.70Z" fill="#fff" stroke="#00ff00" stroke-width="1.6" stroke-linejoin="round"/>
<path d="M492.21,730.40L502.21,746.70L482.21,746.70Z" fill="#fff" stroke="#00ff00" stroke-width="1.6" stroke-linejoin="round"/>
<path d="M501.84,729.90L511.84,746.20L491.84,746.20Z" fill="#fff" stroke="#00ff00" stroke-width="1.6" stroke-linejoin="round"/>
<path d="M511.47,729.20L521.47,745.50L501.47,745.50Z" fill="#fff" stroke="#00ff00" stroke-width="1.6" stroke-linejoin="round"/>
<path d="M521.10,728.50L531.10,744.80L511.10,744.80Z" fill="#fff" stroke="#00ff00" stroke-width="1.6" stroke-linejoin="round"/>
<path d="M530.73,727.60L540.73,743.90L520.73,743.90Z" fill="#fff" stroke="#00ff00" stroke-width="1.6" stroke-linejoin="round"/>
<path d="M540.36,726.90L550.36,743.20L530.36,743.20Z" fill="#fff" stroke="#00ff00" stroke-width="1.6" stroke-linejoin="round"/>
<path d="M549.99,726.20L559.99,742.50L539.99,742.50Z" fill="#fff" stroke="#00ff00" stroke-width="1.6" stroke-linejoin="round"/>
<path d="M559.62,723.90L569.62,740.20L549.62,740.20Z" fill="#fff" stroke="#00ff00" stroke-width="1.6" stroke-linejoin="round"/>
<path d="M569.25,723.40L579.25,739.70L559.25,739.70Z" fill="#fff" stroke="#00ff00" stroke-width="1.6" stroke-linejoin="round"/>
<path d="M578.88,722.80L588.88,739.10L568.88,739.10Z" fill="#fff" stroke="#00ff00" stroke-width="1.6" stroke-linejoin="round"/>
<path d="M588.51,720.30L598.51,736.60L578.51,736.60Z" fill="#fff" stroke="#00ff00" stroke-width="1.6" stroke-linejoin="round"/>
<path d="M598.14,718.60L608.14,734.90L588.14,734.90Z" fill="#fff" stroke="#00ff00" stroke-width="1.6" stroke-linejoin="round"/>
<path d="M607.77,715.00L617.77,731.30L597.77,731.30Z" fill="#fff" stroke="#00ff00" stroke-width="1.6" stroke-linejoin="round"/>
<path d="M617.40,719.60L627.40,735.90L607.40,735.90Z" fill="#fff" stroke="#00ff00" stroke-width="1.6" stroke-linejoin="round"/>
<path d="M627.03,719.20L637.03,735.50L617.03,735.50Z" fill="#fff" stroke="#00ff00" stroke-width="1.6" stroke-linejoin="round"/>
<path d="M636.66,718.20L646.66,734.50L626.66,734.50Z" fill="#fff" stroke="#00ff00" stroke-width="1.6" stroke-linejoin="round"/>
<path d="M646.29,720.70L656.29,737.00L636.29,737.00Z" fill="#fff" stroke="#00ff00" stroke-width="1.6" stroke-linejoin="round"/>
<path d="M655.92,717.10L665.92,733.40L645.92,733.40Z" fill="#fff" stroke="#00ff00" stroke-width="1.6" stroke-linejoin="round"/>
<path d="M665.55,715.40L675.55,731.70L655.55,731.70Z" fill="#fff" stroke="#00ff00" stroke-width="1.6" stroke-linejoin="round"/>
<path d="M145.53,776.47L155.53,760.17L135.53,760.17Z" fill="#fff" stroke="#0000ff" stroke-width="1.6" stroke-linejoin="round"/>
<path d="M155.16,776.47L165.16,760.17L145.16,760.17Z" fill="#fff" stroke="#0000ff" stroke-width="1.6" stroke-linejoin="round"/>
<path d="M164.79,776.47L174.79,760.17L154.79,760.17Z" fill="#fff" stroke="#0000ff" stroke-width="1.6" stroke-linejoin="round"/>
<path d="M174.42,776.47L184.42,760.17L164.42,760.17Z" fill="#fff" stroke="#0000ff" stroke-width="1.6" stroke-linejoin="round"/>
<path d="M184.05,776.47L194.05,760.17L174.05,760.17Z" fill="#fff" stroke="#0000ff" stroke-width="1.6" stroke-linejoin="round"/>
<path d="M193.68,776.47L203.68,760.17L183.68,760.17Z" fill="#fff" stroke="#0000ff" stroke-width="1.6" stroke-linejoin="round"/>
<path d="M203.31,776.47L213.31,760.17L193.31,760.17Z" fill="#fff" stroke="#0000ff" stroke-width="1.6" stroke-linejoin="round"/>
<path d="M212.94,776.47L222.94,760.17L202.94,760.17Z" fill="#fff" stroke="#0000ff" stroke-width="1.6" stroke-linejoin="round"/>
<path d="M222.57,776.47L232.57,760.17L212.57,760.17Z" fill="#fff" stroke="#0000ff" stroke-width="1.6" stroke-linejoin="round"/>
<path d="M232.20,776.47L242.20,760.17L222.20,760.17Z" fill="#fff" stroke="#0000ff" stroke-width="1.6" stroke-linejoin="round"/>
<path d="M241.83,776.32L251.83,760.02L231.83,760.02Z" fill="#fff" stroke="#0000ff" stroke-width="1.6" stroke-linejoin="round"/>
<path d="M251.46,776.17L261.46,759.87L241.46,759.87Z" fill="#fff" stroke="#0000ff" stroke-width="1.6" stroke-linejoin="round"/>
<path d="M261.09,776.02L271.09,759.72L251.09,759.72Z" fill="#fff" stroke="#0000ff" stroke-width="1.6" stroke-linejoin="round"/>
<path d="M270.72,775.87L280.72,759.57L260.72,759.57Z" fill="#fff" stroke="#0000ff" stroke-width="1.6" stroke-linejoin="round"/>
<path d="M280.35,775.72L290.35,759.42L270.35,759.42Z" fill="#fff" stroke="#0000ff" stroke-width="1.6" stroke-linejoin="round"/>
<path d="M289.98,775.57L299.98,759.27L279.98,759.27Z" fill="#fff" stroke="#0000ff" stroke-width="1.6" stroke-linejoin="round"/>
<path d="M299.61,775.42L309.61,759.12L289.61,759.12Z" fill="#fff" stroke="#0000ff" stroke-width="1.6" stroke-linejoin="round"/>
<path d="M309.24,775.27L319.24,758.97L299.24,758.97Z" fill="#fff" stroke="#0000ff" stroke-width="1.6" stroke-linejoin="round"/>
<path d="M318.87,775.12L328.87,758.82L308.87,758.82Z" fill="#fff" stroke="#0000ff" stroke-width="1.6" stroke-linejoin="round"/>
<path d="M328.50,774.97L338.50,758.67L318.50,758.67Z" fill="#fff" stroke="#0000ff" stroke-width="1.6" stroke-linejoin="round"/>
<path d="M338.13,774.68L348.13,758.38L328.13,758.38Z" fill="#fff" stroke="#0000ff" stroke-width="1.6" stroke-linejoin="round"/>
<path d="M347.76,774.40L357.76,758.10L337.76,758.10Z" fill="#fff" stroke="#0000ff" stroke-width="1.6" stroke-linejoin="round"/>
<path d="M357.39,774.11L367.39,757.81L347.39,757.81Z" fill="#fff" stroke="#0000ff" stroke-width="1.6" stroke-linejoin="round"/>
<path d="M367.02,773.82L377.02,757.52L357.02,757.52Z" fill="#fff" stroke="#0000ff" stroke-width="1.6" stroke-linejoin="round"/>
<path d="M376.65,773.54L386.65,757.24L366.65,757.24Z" fill="#fff" stroke="#0000ff" stroke-width="1.6" stroke-linejoin="round"/>
<path d="M386.28,773.25L396.28,756.95L376.28,756.95Z" fill="#fff" stroke="#0000ff" stroke-width="1.6" stroke-linejoin="round"/>
<path d="M395.91,772.97L405.91,756.67L385.91,756.67Z" fill="#fff" stroke="#0000ff" stroke-width="1.6" stroke-linejoin="round"/>
<path d="M405.54,772.67L415.54,756.37L395.54,756.37Z" fill="#fff" stroke="#0000ff" stroke-width="1.6" stroke-linejoin="round"/>
<path d="M415.17,772.37L425.17,756.07L405.17,756.07Z" fill="#fff" stroke="#0000ff" stroke-width="1.6" stroke-linejoin="round"/>
<path d="M424.80,772.07L434.80,755.77L414.80,755.77Z" fill="#fff" stroke="#0000ff" stroke-width="1.6" stroke-linejoin="round"/>
<path d="M434.43,771.77L444.43,755.47L424.43,755.47Z" fill="#fff" stroke="#0000ff" stroke-width="1.6" stroke-linejoin="round"/>
<path d="M444.06,771.47L454.06,755.17L434.06,755.17Z" fill="#fff" stroke="#0000ff" stroke-width="1.6" stroke-linejoin="round"/>
<path d="M453.69,771.17L463.69,754.87L443.69,754.87Z" fill="#fff" stroke="#0000ff" stroke-width="1.6" stroke-linejoin="round"/>
<path d="M463.32,770.87L473.32,754.57L453.32,754.57Z" fill="#fff" stroke="#0000ff" stroke-width="1.6" stroke-linejoin="round"/>
<path d="M472.95,770.57L482.95,754.27L462.95,754.27Z" fill="#fff" stroke="#0000ff" stroke-width="1.6" stroke-linejoin="round"/>
<path d="M482.58,770.27L492.58,753.97L472.58,753.97Z" fill="#fff" stroke="#0000ff" stroke-width="1.6" stroke-linejoin="round"/>
<path d="M492.21,769.97L502.21,753.67L482.21,753.67Z" fill="#fff" stroke="#0000ff" stroke-width="1.6" stroke-linejoin="round"/>
<path d="M501.84,769.67L511.84,753.37L491.84,753.37Z" fill="#fff" stroke="#0000ff" stroke-width="1.6" stroke-linejoin="round"/>
<path d="M511.47,769.37L521.47,753.07L501.47,753.07Z" fill="#fff" stroke="#0000ff" stroke-width="1.6" stroke-linejoin="round"/>
<path d="M521.10,769.07L531.10,752.77L511.10,752.77Z" fill="#fff" stroke="#0000ff" stroke-width="1.6" stroke-linejoin="round"/>
<path d="M530.73,768.77L540.73,752.47L520.73,752.47Z" fill="#fff" stroke="#0000ff" stroke-width="1.6" stroke-linejoin="round"/>
<path d="M540.36,768.47L550.36,752.17L530.36,752.17Z" fill="#fff" stroke="#0000ff" stroke-width="1.6" stroke-linejoin="round"/>
<path d="M549.99,767.67L559.99,751.37L539.99,751.37Z" fill="#fff" stroke="#0000ff" stroke-width="1.6" stroke-linejoin="round"/>
<path d="M559.62,765.47L569.62,749.17L549.62,749.17Z" fill="#fff" stroke="#0000ff" stroke-width="1.6" stroke-linejoin="round"/>
<path d="M569.25,764.87L579.25,748.57L559.25,748.57Z" fill="#fff" stroke="#0000ff" stroke-width="1.6" stroke-linejoin="round"/>
<path d="M578.88,764.87L588.88,748.57L568.88,748.57Z" fill="#fff" stroke="#0000ff" stroke-width="1.6" stroke-linejoin="round"/>
<path d="M588.51,761.27L598.51,744.97L578.51,744.97Z" fill="#fff" stroke="#0000ff" stroke-width="1.6" stroke-linejoin="round"/>
<path d="M598.14,759.77L608.14,743.47L588.14,743.47Z" fill="#fff" stroke="#0000ff" stroke-width="1.6" stroke-linejoin="round"/>
<path d="M607.77,753.87L617.77,737.57L597.77,737.57Z" fill="#fff" stroke="#0000ff" stroke-width="1.6" stroke-linejoin="round"/>
<path d="M617.40,765.47L627.40,749.17L607.40,749.17Z" fill="#fff" stroke="#0000ff" stroke-width="1.6" stroke-linejoin="round"/>
<path d="M627.03,765.47L637.03,749.17L617.03,749.17Z" fill="#fff" stroke="#0000ff" stroke-width="1.6" stroke-linejoin="round"/>
<path d="M636.66,764.47L646.66,748.17L626.66,748.17Z" fill="#fff" stroke="#0000ff" stroke-width="1.6" stroke-linejoin="round"/>
<path d="M646.29,769.77L656.29,753.47L636.29,753.47Z" fill="#fff" stroke="#0000ff" stroke-width="1.6" stroke-linejoin="round"/>
<path d="M655.92,765.47L665.92,749.17L645.92,749.17Z" fill="#fff" stroke="#0000ff" stroke-width="1.6" stroke-linejoin="round"/>
<path d="M665.55,764.87L675.55,748.57L655.55,748.57Z" fill="#fff" stroke="#0000ff" stroke-width="1.6" stroke-linejoin="round"/>
<rect x="197.7" y="463.0" width="241.40000000000003" height="187.29999999999995" fill="#fff" stroke="#000" stroke-width="1.6"/>
<line x1="190.70" y1="650.30" x2="197.70" y2="650.30" stroke="#000" stroke-width="1.3"/>
<text x="185.60" y="654.90" font-family="&quot;Liberation Sans&quot;, sans-serif" font-weight="bold" font-size="10.7" text-anchor="end" >150</text>
<line x1="194.20" y1="629.39" x2="197.70" y2="629.39" stroke="#000" stroke-width="1.3"/>
<line x1="190.70" y1="608.47" x2="197.70" y2="608.47" stroke="#000" stroke-width="1.3"/>
<text x="185.60" y="613.07" font-family="&quot;Liberation Sans&quot;, sans-serif" font-weight="bold" font-size="10.7" text-anchor="end" >200</text>
<line x1="194.20" y1="587.56" x2="197.70" y2="587.56" stroke="#000" stroke-width="1.3"/>
<line x1="190.70" y1="566.65" x2="197.70" y2="566.65" stroke="#000" stroke-width="1.3"/>
<text x="185.60" y="571.25" font-family="&quot;Liberation Sans&quot;, sans-serif" font-weight="bold" font-size="10.7" text-anchor="end" >250</text>
<line x1="194.20" y1="545.74" x2="197.70" y2="545.74" stroke="#000" stroke-width="1.3"/>
<line x1="190.70" y1="524.82" x2="197.70" y2="524.82" stroke="#000" stroke-width="1.3"/>
<text x="185.60" y="529.42" font-family="&quot;Liberation Sans&quot;, sans-serif" font-weight="bold" font-size="10.7" text-anchor="end" >300</text>
<line x1="194.20" y1="503.91" x2="197.70" y2="503.91" stroke="#000" stroke-width="1.3"/>
<line x1="190.70" y1="483.00" x2="197.70" y2="483.00" stroke="#000" stroke-width="1.3"/>
<text x="185.60" y="487.60" font-family="&quot;Liberation Sans&quot;, sans-serif" font-weight="bold" font-size="10.7" text-anchor="end" >350</text>
<line x1="194.20" y1="462.09" x2="197.70" y2="462.09" stroke="#000" stroke-width="1.3"/>
<line x1="197.70" y1="650.30" x2="197.70" y2="654.10" stroke="#000" stroke-width="1.3"/>
<text x="197.70" y="665.40" font-family="&quot;Liberation Sans&quot;, sans-serif" font-weight="bold" font-size="10.7" text-anchor="middle" >450</text>
<line x1="235.50" y1="650.30" x2="235.50" y2="652.30" stroke="#000" stroke-width="1.3"/>
<line x1="273.30" y1="650.30" x2="273.30" y2="654.10" stroke="#000" stroke-width="1.3"/>
<text x="273.30" y="665.40" font-family="&quot;Liberation Sans&quot;, sans-serif" font-weight="bold" font-size="10.7" text-anchor="middle" >475</text>
<line x1="311.10" y1="650.30" x2="311.10" y2="652.30" stroke="#000" stroke-width="1.3"/>
<line x1="348.90" y1="650.30" x2="348.90" y2="654.10" stroke="#000" stroke-width="1.3"/>
<text x="348.90" y="665.40" font-family="&quot;Liberation Sans&quot;, sans-serif" font-weight="bold" font-size="10.7" text-anchor="middle" >500</text>
<line x1="386.70" y1="650.30" x2="386.70" y2="652.30" stroke="#000" stroke-width="1.3"/>
<line x1="424.50" y1="650.30" x2="424.50" y2="654.10" stroke="#000" stroke-width="1.3"/>
<text x="424.50" y="665.40" font-family="&quot;Liberation Sans&quot;, sans-serif" font-weight="bold" font-size="10.7" text-anchor="middle" >525</text>
<text x="273.70" y="679.80" font-family="&quot;Liberation Sans&quot;, sans-serif" font-weight="bold" font-size="11.1" text-anchor="start" >Temperature (K)</text>
<text x="398.50" y="476.60" font-family="&quot;Liberation Sans&quot;, sans-serif" font-size="10.1" text-anchor="start" >100 kHz</text>
<text transform="translate(161.1,562.2) rotate(-90)" font-family="&quot;Liberation Serif&quot;, serif" font-size="12" stroke="#000" stroke-width="0.35">&#949;</text>
<text transform="translate(163.7,557.4) rotate(-90)" font-family="&quot;Liberation Sans&quot;, sans-serif" font-size="8">r</text>
<path d="M205.46,629.96L207.44,629.44M217.56,626.80L219.54,626.30M229.64,623.47L231.76,622.83M241.83,619.62L243.77,618.98M253.82,615.51L255.88,614.79M265.90,610.97L268.00,610.13M276.03,603.19L281.97,593.61M289.93,585.93L292.17,584.67M302.20,581.48L304.10,581.32M311.18,575.89L319.42,555.11M326.23,546.40L328.47,544.70M334.56,535.94L344.04,497.86M345.94,497.89L356.86,584.71M362.49,591.99L364.61,592.91M374.55,592.48L376.75,591.32M383.72,593.71L391.88,613.89M396.26,613.93L403.64,598.37M410.77,589.18L413.23,587.02" fill="none" stroke="#000" stroke-width="1.4"/>
<rect x="197.30" y="628.35" width="6.2" height="5.9" fill="#fff" stroke="#000" stroke-width="1.35"/>
<rect x="209.40" y="625.15" width="6.2" height="5.9" fill="#fff" stroke="#000" stroke-width="1.35"/>
<rect x="221.50" y="622.05" width="6.2" height="5.9" fill="#fff" stroke="#000" stroke-width="1.35"/>
<rect x="233.70" y="618.35" width="6.2" height="5.9" fill="#fff" stroke="#000" stroke-width="1.35"/>
<rect x="245.70" y="614.35" width="6.2" height="5.9" fill="#fff" stroke="#000" stroke-width="1.35"/>
<rect x="257.80" y="610.05" width="6.2" height="5.9" fill="#fff" stroke="#000" stroke-width="1.35"/>
<rect x="269.90" y="605.15" width="6.2" height="5.9" fill="#fff" stroke="#000" stroke-width="1.35"/>
<rect x="281.90" y="585.75" width="6.2" height="5.9" fill="#fff" stroke="#000" stroke-width="1.35"/>
<rect x="294.00" y="578.95" width="6.2" height="5.9" fill="#fff" stroke="#000" stroke-width="1.35"/>
<rect x="306.10" y="577.95" width="6.2" height="5.9" fill="#fff" stroke="#000" stroke-width="1.35"/>
<rect x="318.30" y="547.15" width="6.2" height="5.9" fill="#fff" stroke="#000" stroke-width="1.35"/>
<rect x="330.20" y="538.05" width="6.2" height="5.9" fill="#fff" stroke="#000" stroke-width="1.35"/>
<rect x="342.20" y="489.85" width="6.2" height="5.9" fill="#fff" stroke="#000" stroke-width="1.35"/>
<rect x="354.40" y="586.85" width="6.2" height="5.9" fill="#fff" stroke="#000" stroke-width="1.35"/>
<rect x="366.50" y="592.15" width="6.2" height="5.9" fill="#fff" stroke="#000" stroke-width="1.35"/>
<rect x="378.60" y="585.75" width="6.2" height="5.9" fill="#fff" stroke="#000" stroke-width="1.35"/>
<rect x="390.80" y="615.95" width="6.2" height="5.9" fill="#fff" stroke="#000" stroke-width="1.35"/>
<rect x="402.90" y="590.45" width="6.2" height="5.9" fill="#fff" stroke="#000" stroke-width="1.35"/>
<rect x="414.90" y="579.85" width="6.2" height="5.9" fill="#fff" stroke="#000" stroke-width="1.35"/>
<text x="285.80" y="868.90" font-family="&quot;Liberation Sans&quot;, sans-serif" font-weight="bold" font-size="28" text-anchor="start" >Temperature (K)</text>
<g fill="none" stroke="#000" stroke-linecap="round"><path d="M2.6,392.6 C0.6,393.8 0.2,396.6 0.8,399.0 C1.6,402.1 6.0,403.0 7.8,400.0 C8.4,398.8 8.5,396.5 8.4,394.3" stroke-width="1.9"/><path d="M1.3,400.4 C2.4,402.6 6.0,402.9 7.5,400.7" stroke-width="3.3"/><path d="M8.5,397.6 C9.3,401.8 12.6,403.6 15.0,402.8 C17.5,401.8 17.5,397.2 16.7,395.2 C16.2,393.9 15.2,393.1 14.2,392.6" stroke-width="2.1"/><path d="M9.8,401.2 C11.3,403.2 14.2,403.4 16.1,402.0" stroke-width="3.4"/></g><circle cx="2.6" cy="392.6" r="1.65"/><circle cx="13.85" cy="392.1" r="1.95"/>
<text transform="translate(29.9,389.3) rotate(-90)" font-family="&quot;Liberation Sans&quot;, sans-serif" font-size="28">r</text>
<text x="208.00" y="42.50" font-family="&quot;Liberation Sans&quot;, sans-serif" font-weight="bold" font-size="28" text-anchor="start" >x=0</text>
<text x="142.40" y="444.60" font-family="&quot;Liberation Sans&quot;, sans-serif" font-weight="bold" font-size="28" text-anchor="start" >x=0.05</text>
<rect x="399.65" y="75.50" width="14.3" height="13.4" fill="#fff" stroke="#000" stroke-width="1.55"/>
<text x="443.50" y="91.20" font-family="&quot;Liberation Sans&quot;, sans-serif" font-size="26.5" text-anchor="start" >0.12</text>
<text x="502.20" y="91.20" font-family="&quot;Liberation Sans&quot;, sans-serif" font-size="26.5" text-anchor="start" >kHz</text>
<rect x="399.65" y="106.50" width="14.3" height="13.4" fill="#fff" stroke="#ff0000" stroke-width="1.55"/>
<text x="443.50" y="122.20" font-family="&quot;Liberation Sans&quot;, sans-serif" font-size="26.5" text-anchor="start" >1</text>
<text x="502.20" y="122.20" font-family="&quot;Liberation Sans&quot;, sans-serif" font-size="26.5" text-anchor="start" >kHz</text>
<rect x="399.65" y="137.50" width="14.3" height="13.4" fill="#fff" stroke="#00ff00" stroke-width="1.55"/>
<text x="443.50" y="153.20" font-family="&quot;Liberation Sans&quot;, sans-serif" font-size="26.5" text-anchor="start" >10</text>
<text x="502.20" y="153.20" font-family="&quot;Liberation Sans&quot;, sans-serif" font-size="26.5" text-anchor="start" >kHz</text>
<rect x="399.65" y="168.50" width="14.3" height="13.4" fill="#fff" stroke="#0000ff" stroke-width="1.55"/>
<text x="443.50" y="184.20" font-family="&quot;Liberation Sans&quot;, sans-serif" font-size="26.5" text-anchor="start" >100</text>
<text x="502.20" y="184.20" font-family="&quot;Liberation Sans&quot;, sans-serif" font-size="26.5" text-anchor="start" >kHz</text>
<rect x="451.85" y="420.40" width="14.3" height="13.4" fill="#fff" stroke="#000" stroke-width="1.55"/>
<text x="495.50" y="436.10" font-family="&quot;Liberation Sans&quot;, sans-serif" font-size="26.5" text-anchor="start" >0.12</text>
<text x="553.90" y="436.10" font-family="&quot;Liberation Sans&quot;, sans-serif" font-size="26.5" text-anchor="start" >kHz</text>
<circle cx="459.00" cy="458.10" r="8.0" fill="#fff" stroke="#ff0000" stroke-width="1.6"/>
<text x="495.50" y="467.10" font-family="&quot;Liberation Sans&quot;, sans-serif" font-size="26.5" text-anchor="start" >1</text>
<text x="553.90" y="467.10" font-family="&quot;Liberation Sans&quot;, sans-serif" font-size="26.5" text-anchor="start" >kHz</text>
<path d="M459.00,479.03L468.65,495.03L449.35,495.03Z" fill="#fff" stroke="#00ff00" stroke-width="1.6" stroke-linejoin="round"/>
<text x="495.50" y="498.10" font-family="&quot;Liberation Sans&quot;, sans-serif" font-size="26.5" text-anchor="start" >10</text>
<text x="553.90" y="498.10" font-family="&quot;Liberation Sans&quot;, sans-serif" font-size="26.5" text-anchor="start" >kHz</text>
<path d="M459.00,531.37L468.65,515.37L449.35,515.37Z" fill="#fff" stroke="#0000ff" stroke-width="1.6" stroke-linejoin="round"/>
<text x="495.50" y="529.10" font-family="&quot;Liberation Sans&quot;, sans-serif" font-size="26.5" text-anchor="start" >100</text>
<text x="553.90" y="529.10" font-family="&quot;Liberation Sans&quot;, sans-serif" font-size="26.5" text-anchor="start" >kHz</text>
</svg>
</body></html>
